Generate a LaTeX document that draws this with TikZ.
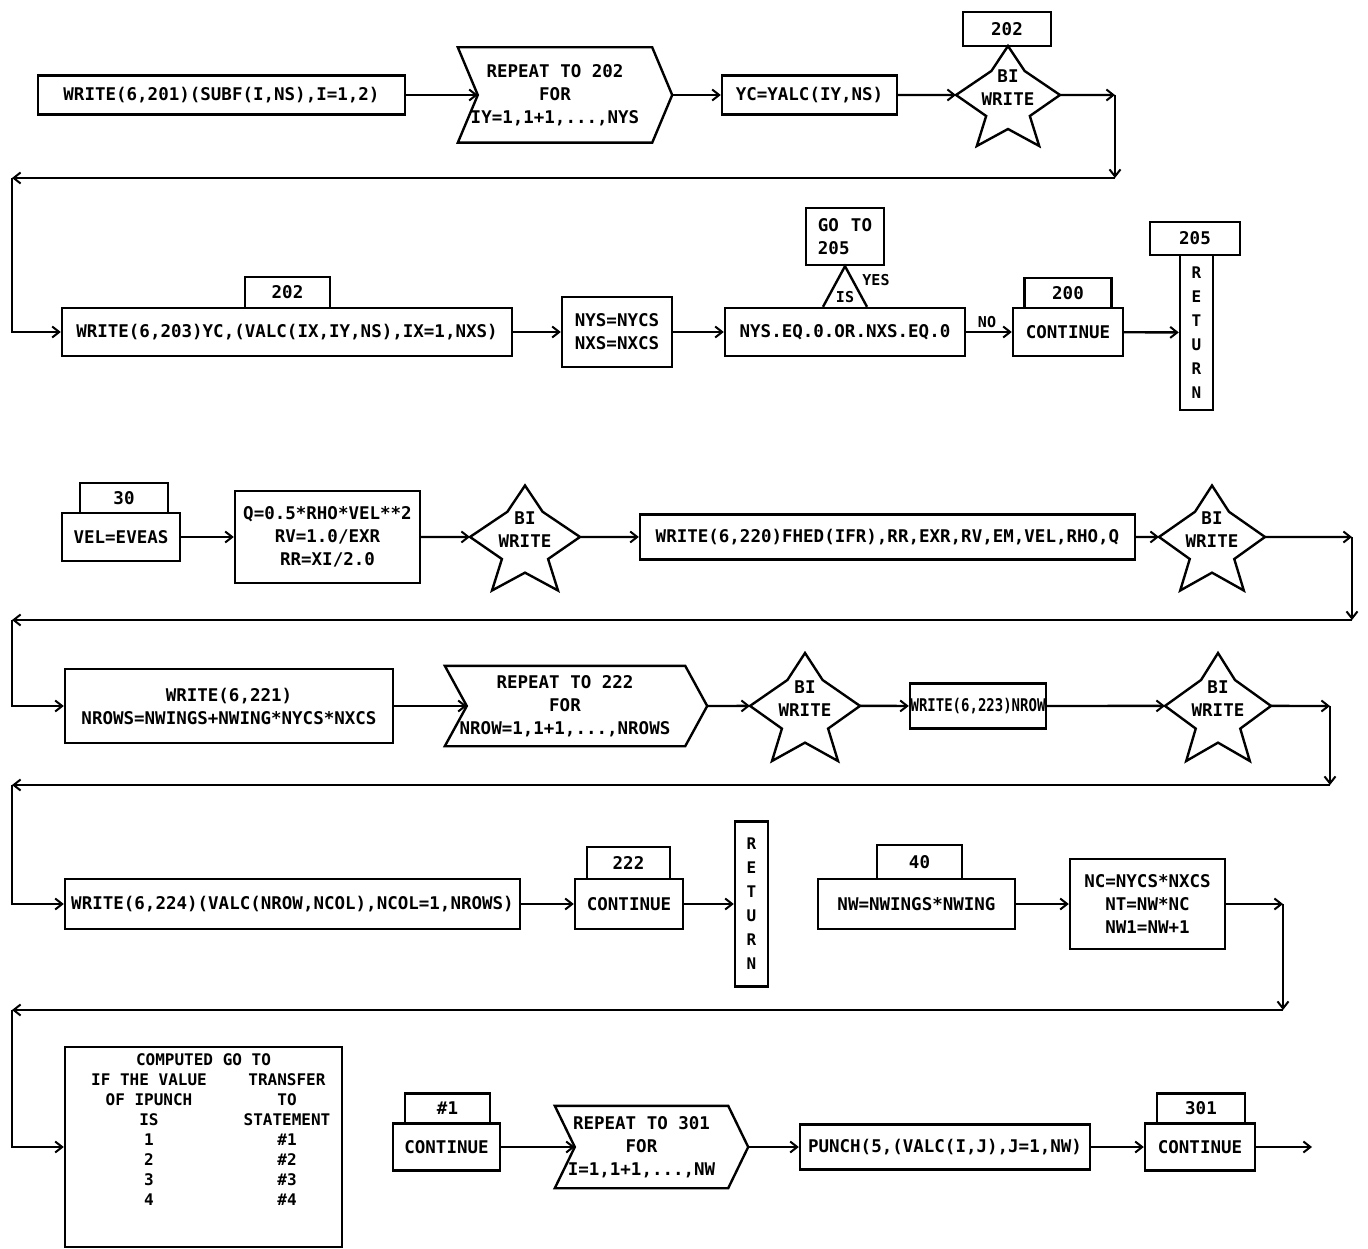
\documentclass[tikz,border=0pt]{standalone}
\usepackage{fontspec}
\newfontfamily\dmono{DejaVu Sans Mono}
\usetikzlibrary{arrows.meta,calc}
\tikzset{
  ln/.style={line width=2.4pt},
  bx/.style={draw, ln, inner sep=1pt, align=center, font=\dmono\bfseries\fontsize{17.5}{23}\selectfont},
  txt/.style={inner sep=0pt, align=center, font=\dmono\bfseries\fontsize{17.5}{23}\selectfont},
  small/.style={inner sep=0pt, font=\dmono\bfseries\fontsize{15}{18}\selectfont},
  retbox/.style={bx, font=\dmono\bfseries\fontsize{16}{24}\selectfont},
  arr/.style={ln, -{Straight Barb[length=7pt,width=11pt,line width=2pt]}},
  pics/bstar/.style={code={
    \draw[ln] (0,0) -- (0.32,0.25) -- (1,0.49) -- (0.42,0.7) -- (0.6,1) -- (0,0.83) -- (-0.6,1) -- (-0.42,0.7) -- (-1,0.49) -- (-0.32,0.25) -- cycle;
    \coordinate (-w) at (-1,0.49);
    \coordinate (-e) at (1,0.49);
  }},
}
\newcommand\mychev[2]{\draw[ln] (#1.north west) -- (#1.north east) -- ($(#1.east)+(#2,0)$) -- (#1.south east) -- (#1.south west) -- ($(#1.west)+(#2,0)$) -- cycle;}
\begin{document}
\begin{tikzpicture}[x=1pt,y=-1pt]
\useasboundingbox (0,0) rectangle (1368,1249);
% ---------- Row 1
\node[bx, minimum width=367pt, minimum height=39pt] (w201) at (221.5,95) {WRITE(6,201)(SUBF(I,NS),I=1,2)};
\node[txt, minimum width=194pt, minimum height=95pt] (r1) at (555,95) {REPEAT TO 202\\FOR\\IY=1,1+1,...,NYS};
\mychev{r1}{20}
\node[bx, minimum width=175pt, minimum height=39pt] (yc) at (809.5,95) {YC=YALC(IY,NS)};
\begin{scope}[shift={(1008,46)}, xscale=52, yscale=100]
  \pic[transform shape] (s1) {bstar};
\end{scope}
\node[txt] (s1t) at (1008,88) {BI\\WRITE};
\node[bx, minimum width=88pt, minimum height=34pt] (b202) at (1007,29) {202};
\coordinate (c1a) at (1115,95);
\coordinate (c1b) at (1115,178);
\coordinate (c1c) at (12,178);
\draw[arr] (w201) -- ($(r1.west)+(20,0)$);
\draw[arr] ($(r1.east)+(20,0)$) -- (yc);
\draw[arr] (yc) -- (s1-w);
\draw[arr] (s1-e) -- (c1a);
\draw[arr] (c1a) -- (c1b);
\draw[arr] (c1b) -- (c1c);
% ---------- Row 2
\node[bx, minimum width=85pt, minimum height=31pt] (b202b) at (287.5,292.5) {202};
\node[bx, minimum width=450pt, minimum height=48pt] (w203) at (287,332) {WRITE(6,203)YC,(VALC(IX,IY,NS),IX=1,NXS)};
\node[bx, minimum width=110pt, minimum height=70pt] (nys) at (617,332) {NYS=NYCS\\NXS=NXCS};
\node[bx, minimum width=240pt, minimum height=48pt] (cond) at (845,332) {NYS.EQ.0.OR.NXS.EQ.0};
\node[bx, minimum width=78pt, minimum height=57pt, align=left] (goto) at (845,236.5) {GO\hspace{12pt}TO\\205};
\draw[ln] ($(cond.north)+(-22,0)$) -- (goto.south) -- ($(cond.north)+(22,0)$);
\node[small] (is) at (845,297) {IS};
\node[small] (yes) at (876,280) {YES};
\node[small] (no) at (987,322) {NO};
\node[bx, minimum width=87pt, minimum height=30pt] (b200) at (1068,293) {200};
\node[bx, minimum width=110pt, minimum height=48pt] (cont1) at (1068,332) {CONTINUE};
\node[bx, minimum width=90pt, minimum height=33pt] (b205) at (1195,238.5) {205};
\node[retbox, minimum width=33pt, minimum height=155pt] (ret1) at (1196.5,332.5) {R\\E\\T\\U\\R\\N};
\draw[arr] (c1c) |- (w203);
\draw[arr] (w203) -- (nys);
\draw[arr] (nys) -- (cond);
\draw[arr] (cond) -- (cont1);
\draw[arr] (cont1) -- (ret1);
% ---------- Row 3
\node[bx, minimum width=88pt, minimum height=30pt] (b30) at (124,498) {30};
\node[bx, minimum width=118pt, minimum height=48pt] (vel) at (121,537) {VEL=EVEAS};
\node[bx, minimum width=185pt, minimum height=92pt] (q) at (327.5,537) {Q=0.5*RHO*VEL**2\\RV=1.0/EXR\\RR=XI/2.0};
\begin{scope}[shift={(525,485.5)}, xscale=55, yscale=105]
  \pic[transform shape] (s2) {bstar};
\end{scope}
\node[txt] (s2t) at (525,530) {BI\\WRITE};
\node[bx, minimum width=495pt, minimum height=45pt] (w220) at (887.5,537) {WRITE(6,220)FHED(IFR),RR,EXR,RV,EM,VEL,RHO,Q};
\begin{scope}[shift={(1212,485.5)}, xscale=53, yscale=105]
  \pic[transform shape] (s3) {bstar};
\end{scope}
\node[txt] (s3t) at (1212,530) {BI\\WRITE};
\coordinate (c3a) at (1352,537);
\coordinate (c3b) at (1352,620);
\coordinate (c3c) at (12,620);
\draw[arr] (vel) -- (q);
\draw[arr] (q) -- (s2-w);
\draw[arr] (s2-e) -- (w220);
\draw[arr] (w220) -- (s3-w);
\draw[arr] (s3-e) -- (c3a);
\draw[arr] (c3a) -- (c3b);
\draw[arr] (c3b) -- (c3c);
% ---------- Row 4
\node[bx, minimum width=328pt, minimum height=74pt] (w221) at (229,706) {WRITE(6,221)\\NROWS=NWINGS+NWING*NYCS*NXCS};
\node[txt, minimum width=240pt, minimum height=80pt] (r2) at (565,706) {REPEAT TO 222\\FOR\\NROW=1,1+1,...,NROWS};
\mychev{r2}{22}
\begin{scope}[shift={(805,653)}, xscale=55, yscale=108]
  \pic[transform shape] (s4) {bstar};
\end{scope}
\node[txt] (s4t) at (805,699) {BI\\WRITE};
\node[bx, minimum width=136pt, minimum height=45pt, inner sep=0pt] (w223) at (978,706) {\scalebox{0.8}[1]{WRITE(6,223)NROW}};
\begin{scope}[shift={(1218,653)}, xscale=53, yscale=108]
  \pic[transform shape] (s5) {bstar};
\end{scope}
\node[txt] (s5t) at (1218,699) {BI\\WRITE};
\coordinate (c4a) at (1330,706);
\coordinate (c4b) at (1330,785);
\coordinate (c4c) at (12,785);
\draw[arr] (c3c) |- (w221);
\draw[arr] (w221) -- ($(r2.west)+(22,0)$);
\draw[arr] ($(r2.east)+(22,0)$) -- (s4-w);
\draw[arr] (s4-e) -- (w223);
\draw[arr] (w223) -- (s5-w);
\draw[arr] (s5-e) -- (c4a);
\draw[arr] (c4a) -- (c4b);
\draw[arr] (c4b) -- (c4c);
% ---------- Row 5
\node[bx, minimum width=455pt, minimum height=50pt] (w224) at (292.5,904) {WRITE(6,224)(VALC(NROW,NCOL),NCOL=1,NROWS)};
\node[bx, minimum width=83pt, minimum height=32pt] (b222) at (628.5,863) {222};
\node[bx, minimum width=108pt, minimum height=50pt] (cont2) at (629,904) {CONTINUE};
\node[retbox, minimum width=33pt, minimum height=165pt] (ret2) at (751.5,904) {R\\E\\T\\U\\R\\N};
\node[bx, minimum width=85pt, minimum height=34pt] (b40) at (919.5,862) {40};
\node[bx, minimum width=197pt, minimum height=50pt] (nw) at (916.5,904) {NW=NWINGS*NWING};
\node[bx, minimum width=155pt, minimum height=90pt] (nc) at (1147.5,904) {NC=NYCS*NXCS\\NT=NW*NC\\NW1=NW+1};
\coordinate (c5a) at (1283,904);
\coordinate (c5b) at (1283,1010);
\coordinate (c5c) at (12,1010);
\draw[arr] (c4c) |- (w224);
\draw[arr] (w224) -- (cont2);
\draw[arr] (cont2) -- (ret2);
\draw[arr] (nw) -- (nc);
\draw[arr] (nc) -- (c5a);
\draw[arr] (c5a) -- (c5b);
\draw[arr] (c5b) -- (c5c);
% ---------- Row 6
\node[draw, ln, minimum width=277pt, minimum height=200pt] (tbl) at (203.5,1147) {};
\node[txt, anchor=north, font=\dmono\bfseries\fontsize{16}{20}\selectfont] (tbltxt) at (203.5,1053) {%
\makebox[276pt]{COMPUTED GO TO}\\
\makebox[167pt]{IF THE VALUE}\makebox[109pt]{TRANSFER}\\
\makebox[167pt]{OF IPUNCH}\makebox[109pt]{TO}\\
\makebox[167pt]{IS}\makebox[109pt]{STATEMENT}\\
\makebox[167pt]{1}\makebox[109pt]{\#1}\\
\makebox[167pt]{2}\makebox[109pt]{\#2}\\
\makebox[167pt]{3}\makebox[109pt]{\#3}\\
\makebox[167pt]{4}\makebox[109pt]{\#4}};
\node[bx, minimum width=85pt, minimum height=30pt] (b1) at (447.5,1108.5) {\#1};
\node[bx, minimum width=107pt, minimum height=47pt] (cont3) at (446.5,1147) {CONTINUE};
\node[txt, minimum width=173pt, minimum height=82pt] (r3) at (641.5,1147) {REPEAT TO 301\\FOR\\I=1,1+1,...,NW};
\mychev{r3}{20}
\node[bx, minimum width=290pt, minimum height=45pt] (punch) at (945,1147) {PUNCH(5,(VALC(I,J),J=1,NW)};
\node[bx, minimum width=88pt, minimum height=30pt] (b301) at (1201,1108.5) {301};
\node[bx, minimum width=110pt, minimum height=47pt] (cont4) at (1200,1147) {CONTINUE};
\coordinate (endc) at (1312,1147);
\draw[arr] (c5c) |- (tbl);
\draw[arr] (cont3) -- ($(r3.west)+(20,0)$);
\draw[arr] ($(r3.east)+(20,0)$) -- (punch);
\draw[arr] (punch) -- (cont4);
\draw[arr] (cont4) -- (endc);
\end{tikzpicture}
\end{document}
